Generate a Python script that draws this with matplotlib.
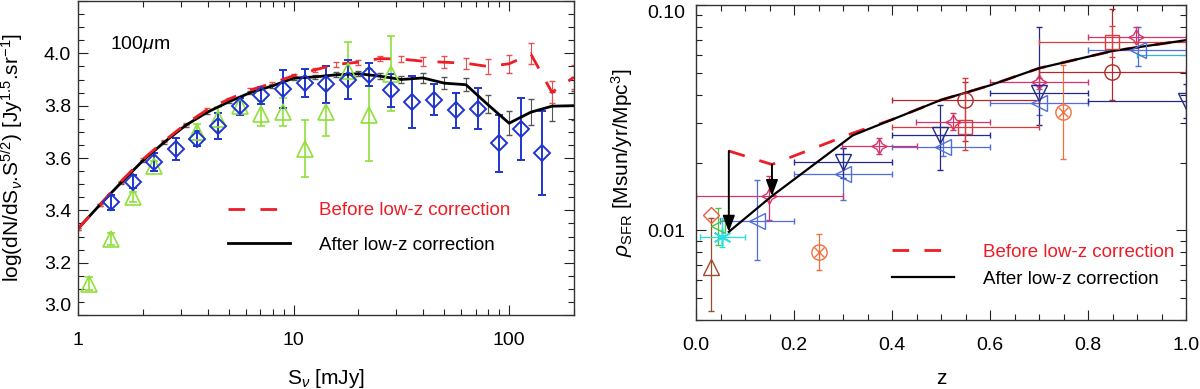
import matplotlib
matplotlib.use('Agg')
import matplotlib.pyplot as plt
from matplotlib.ticker import FixedLocator, FixedFormatter, MultipleLocator, LogLocator, NullFormatter

plt.rcParams['font.family'] = ['Liberation Sans', 'DejaVu Sans']
plt.rcParams['mathtext.fontset'] = 'custom'
plt.rcParams['mathtext.rm'] = 'Liberation Sans'
plt.rcParams['mathtext.it'] = 'Liberation Sans:italic'
plt.rcParams['mathtext.bf'] = 'Liberation Sans:bold'

# ---- left panel: 100um counts ----
S_mod = [1.0, 1.26, 1.58, 2.0, 2.51, 3.16, 3.98, 5.01, 6.31, 7.94, 10.0, 12.6,
         15.8, 20.0, 25.1, 31.6, 39.8, 50.1, 63.1, 79.4, 100.0, 126.0, 158.0, 200.0]
before_cnt = [3.33, 3.42, 3.51, 3.595, 3.665, 3.73, 3.785, 3.825, 3.86, 3.885, 3.915, 3.937,
              3.958, 3.966, 3.98, 3.978, 3.97, 3.966, 3.962, 3.95, 3.96, 3.998, 3.851, 3.909]
before_err = [0.004, 0.004, 0.004, 0.004, 0.005, 0.005, 0.005, 0.005, 0.006, 0.006, 0.007, 0.008,
              0.009, 0.01, 0.01, 0.01, 0.017, 0.022, 0.022, 0.029, 0.034, 0.04, 0.042, 0.045]
after_cnt = [3.33, 3.42, 3.505, 3.59, 3.66, 3.725, 3.775, 3.815, 3.85, 3.875, 3.905, 3.91,
             3.918, 3.922, 3.913, 3.90, 3.906, 3.886, 3.88, 3.805, 3.733, 3.775, 3.798, 3.80]
after_err = [0.004, 0.004, 0.004, 0.004, 0.005, 0.005, 0.005, 0.005, 0.006, 0.006, 0.008, 0.008,
             0.01, 0.01, 0.012, 0.015, 0.019, 0.022, 0.025, 0.034, 0.045, 0.05, 0.055, 0.055]

S_blue = [1.42, 1.79, 2.25, 2.84, 3.55, 4.48, 5.64, 7.07, 8.95, 11.3, 14.2, 17.9, 22.4,
          28.3, 35.5, 44.9, 56.9, 71.9, 90.2, 113.0, 142.0]
cnt_blue = [3.43, 3.51, 3.585, 3.635, 3.674, 3.721, 3.797, 3.839, 3.864, 3.887, 3.881, 3.90,
            3.919, 3.858, 3.813, 3.822, 3.782, 3.788, 3.657, 3.712, 3.62]
err_blue = [0.03, 0.025, 0.035, 0.043, 0.028, 0.05, 0.032, 0.032, 0.074, 0.053, 0.072, 0.073,
            0.044, 0.063, 0.10, 0.059, 0.066, 0.078, 0.109, 0.118, 0.16]

S_green = [1.13, 1.42, 1.79, 2.25, 3.55, 4.48, 5.64, 7.07, 8.95, 11.3, 14.2, 17.9, 22.4, 28.3]
cnt_green = [3.12, 3.29, 3.45, 3.57, 3.70, 3.75, 3.80, 3.77, 3.775, 3.636, 3.775, 3.934, 3.763, 3.922]
err_green = [0.025, 0.022, 0.02, 0.02, 0.03, 0.045, 0.03, 0.048, 0.053, 0.108, 0.09, 0.108, 0.176, 0.143]

# ---- right panel: SFR density ----
z_mod = [0.067, 0.155, 0.32, 0.4, 0.5, 0.55, 0.6, 0.7, 0.85, 1.0]
before_sfr = [0.0225, 0.0196, 0.027, 0.031, 0.0379, 0.0408, 0.044, 0.0524, 0.0625, 0.0698]
after_sfr = [0.00985, 0.0142, 0.0264, 0.031, 0.0379, 0.0408, 0.044, 0.0524, 0.0625, 0.0698]

z_sdia = [0.03]; r_sdia = [0.0117]
z_brown = [0.03]; r_brown = [0.0069]; lo_brown = [0.0025]; hi_brown = [0.0044]
z_grn = [0.045]; r_grn = [0.0105]; lo_grn = [0.0019]; hi_grn = [0.002]
z_cyan = [0.054]; r_cyan = [0.0093]; xlo_cyan = [0.046]; xhi_cyan = [0.045]
lo_cyan = [0.0009]; hi_cyan = [0.0021]
z_blue = [0.125, 0.30, 0.505, 0.70, 0.903]
r_blue = [0.011, 0.0177, 0.0234, 0.0366, 0.063]
xlo_blue = [0.076, 0.10, 0.105, 0.10, 0.103]
xhi_blue = [0.074, 0.10, 0.095, 0.10, 0.097]
lo_blue = [0.0036, 0.0041, 0.002, 0.004, 0.0094]
hi_blue = [0.0057, 0.0056, 0.003, 0.006, 0.017]
z_star = [0.149, 0.374, 0.525, 0.70, 0.898]
r_star = [0.0142, 0.0237, 0.0303, 0.0456, 0.0718]
xlo_star = [0.149, 0.077, 0.076, 0.10, 0.098]
xhi_star = [0.15, 0.076, 0.075, 0.10, 0.102]
lo_star = [0.0031, 0.0019, 0.0025, 0.002, 0.003]
hi_star = [0.0032, 0.0019, 0.0027, 0.002, 0.008]
z_ox = [0.25, 0.748]; r_ox = [0.0080, 0.0336]
lo_ox = [0.0013, 0.0128]; hi_ox = [0.0016, 0.0204]
z_navy = [0.299, 0.498, 0.70, 1.0]
r_navy = [0.0201, 0.0264, 0.0405, 0.0375]
xlo_navy = [0.1, 0.098, 0.10, 0.2]
xhi_navy = [0.1, 0.102, 0.10, 0.2]
lo_navy = [0.003, 0.0079, 0.0112, 0.006]
hi_navy = [0.0032, 0.0096, 0.0397, 0.007]
z_circ = [0.549, 0.848]; r_circ = [0.0379, 0.0506]
xlo_circ = [0.149, 0.148]; xhi_circ = [0.151, 0.152]
lo_circ = [0.013, 0.0127]; hi_circ = [0.0077, 0.045]
z_sq = [0.549, 0.848]; r_sq = [0.0288, 0.0687]
xlo_sq = [0.149, 0.148]; xhi_sq = [0.151, 0.152]
lo_sq = [0.0061, 0.01]; hi_sq = [0.0184, 0.012]
z_teal = [1.05]; r_teal = [0.060]; xerr_teal = [0.15]

RED = '#ee1c25'
fig = plt.figure(figsize=(12, 3.89), dpi=100)
ax1 = fig.add_axes([78/1200, 74/389, 496/1200, 314/389])
ax2 = fig.add_axes([696/1200, 69/389, 490/1200, 315/389])

# left
ax1.errorbar(S_green, cnt_green, yerr=err_green, fmt='^', ms=11, mfc='none', mec='#8fe03a',
             mew=1.2, ecolor='#8fe03a', elinewidth=1.2, capsize=3)
ax1.errorbar(S_blue, cnt_blue, yerr=err_blue, fmt='D', ms=8, mfc='none', mec='#1f35d0',
             mew=1.4, ecolor='#1f35d0', elinewidth=1.4, capsize=3)
ax1.errorbar(S_mod, after_cnt, yerr=after_err, fmt='none', ecolor='#555555', elinewidth=0.8, capsize=2.5)
ax1.errorbar(S_mod, before_cnt, yerr=before_err, fmt='none', ecolor='#e85050', elinewidth=0.8, capsize=2.5)
l_after, = ax1.plot(S_mod, after_cnt, color='k', lw=2, label='After low-z correction')
l_before, = ax1.plot(S_mod, before_cnt, color=RED, lw=2, dashes=(6, 5.5), label='Before low-z correction')

ax1.set_xscale('log')
ax1.set_xlim(1, 200)
ax1.set_ylim(3.0, 4.2)
ax1.xaxis.set_major_locator(FixedLocator([1, 10, 100]))
ax1.xaxis.set_major_formatter(FixedFormatter(['1', '10', '100']))
ax1.xaxis.set_minor_locator(LogLocator(base=10, subs=[2, 3, 4, 5, 6, 7, 8, 9]))
ax1.xaxis.set_minor_formatter(NullFormatter())
ax1.yaxis.set_major_locator(FixedLocator([3.0, 3.2, 3.4, 3.6, 3.8, 4.0, 4.2]))
ax1.yaxis.set_major_formatter(FixedFormatter(['3.0', '3.2', '3.4', '3.6', '3.8', '4.0', '']))
ax1.yaxis.set_minor_locator(MultipleLocator(0.05))
ax1.text(0.0645, 0.86, r'100$\mu$m', transform=ax1.transAxes, fontsize=14, va='center')
ax1.set_xlabel(r'S$_\nu$ [mJy]', fontsize=15)
ax1.set_ylabel(r'log(dN/dS$_\nu$.S$^{5/2}$) [Jy$^{1.5}$.sr$^{-1}$]', fontsize=15)
ax1.xaxis.set_label_coords(0.5, -0.165)
ax1.yaxis.set_label_coords(-0.105, 0.5)
ax1.legend(handles=[l_before, l_after], loc='upper left', bbox_to_anchor=(0.302, 0.36),
           frameon=False, fontsize=13.5, handlelength=3.3, handletextpad=1.55,
           labelspacing=0.95, borderpad=0, borderaxespad=0, labelcolor=[RED, 'k'])

# right
ekw = dict(elinewidth=0.9, capsize=2, mew=1.0, mfc='none')
ax2.errorbar(z_brown, r_brown, yerr=[lo_brown, hi_brown], fmt='^', ms=11, mec='#9c4a2a', ecolor='#9c4a2a', **ekw)
ax2.errorbar(z_sdia, r_sdia, fmt='D', ms=8, mec='#f05a3c', **ekw)
ax2.errorbar(z_grn, r_grn, yerr=[lo_grn, hi_grn], fmt='<', ms=10, mec='#4cc44c', ecolor='#4cc44c', **ekw)
ax2.errorbar(z_cyan, r_cyan, xerr=[xlo_cyan, xhi_cyan], yerr=[lo_cyan, hi_cyan], fmt='none',
             ecolor='#28e0e0', elinewidth=0.9, capsize=2)
ax2.plot(z_cyan, r_cyan, ls='none', marker=(6, 2, 0), ms=13, mec='#28e0e0', mew=1.2)
ax2.errorbar(z_blue, r_blue, xerr=[xlo_blue, xhi_blue], yerr=[lo_blue, hi_blue], fmt='<', ms=11,
             mec='#4f6fdc', ecolor='#4f6fdc', **ekw)
ax2.errorbar(z_navy, r_navy, xerr=[xlo_navy, xhi_navy], yerr=[lo_navy, hi_navy], fmt='v', ms=11,
             mec='#232a8c', ecolor='#232a8c', **ekw)
ax2.errorbar(z_star, r_star, xerr=[xlo_star, xhi_star], yerr=[lo_star, hi_star], fmt='none',
             ecolor='#d8336a', elinewidth=0.9, capsize=2)
ax2.plot(z_star, r_star, ls='none', marker=(4, 1, 0), ms=11, mfc='none', mec='#d8336a', mew=1.0)
ax2.errorbar(z_ox, r_ox, yerr=[lo_ox, hi_ox], fmt='o', ms=11, mec='#f07040', ecolor='#f07040', **ekw)
ax2.plot(z_ox, r_ox, ls='none', marker='x', ms=7, mec='#f07040', mew=1.0)
ax2.errorbar(z_circ, r_circ, xerr=[xlo_circ, xhi_circ], yerr=[lo_circ, hi_circ], fmt='o', ms=11,
             mec='#b52828', ecolor='#b52828', **ekw)
ax2.errorbar(z_sq, r_sq, xerr=[xlo_sq, xhi_sq], yerr=[lo_sq, hi_sq], fmt='s', ms=10,
             mec='#d83c3c', ecolor='#d83c3c', **ekw)
ax2.errorbar(z_teal, r_teal, xerr=xerr_teal, fmt='none', ecolor='#30b8c8', elinewidth=0.9, capsize=2)

r_before, = ax2.plot(z_mod, before_sfr, color=RED, lw=2, dashes=(6, 5.5))
r_after, = ax2.plot(z_mod, after_sfr, color='k', lw=1.6)
for i in range(2):
    ax2.annotate('', xy=(z_mod[i], after_sfr[i]), xytext=(z_mod[i], before_sfr[i]),
                 arrowprops=dict(arrowstyle='-|>,head_length=0.8,head_width=0.3', color='k',
                                 lw=1.4, mutation_scale=12, shrinkA=0, shrinkB=0))

ax2.set_yscale('log')
ax2.set_xlim(0, 1)
ax2.set_ylim(0.004, 0.1)
ax2.xaxis.set_major_locator(FixedLocator([0.0, 0.2, 0.4, 0.6, 0.8, 1.0]))
ax2.xaxis.set_major_formatter(FixedFormatter(['0.0', '0.2', '0.4', '0.6', '0.8', '1.0']))
ax2.xaxis.set_minor_locator(MultipleLocator(0.05))
ax2.yaxis.set_major_locator(FixedLocator([0.01, 0.1]))
ax2.yaxis.set_major_formatter(FixedFormatter(['0.01', '0.10']))
ax2.yaxis.set_minor_locator(LogLocator(base=10, subs=[2, 3, 4, 5, 6, 7, 8, 9]))
ax2.yaxis.set_minor_formatter(NullFormatter())
ax2.set_xlabel('z', fontsize=15)
ax2.set_ylabel(r'$\rho_{\rm SFR}$ [Msun/yr/Mpc$^3$]', fontsize=15)
ax2.xaxis.set_label_coords(0.5, -0.155)
ax2.yaxis.set_label_coords(-0.125, 0.5)
ax2.legend(handles=[r_before, r_after], labels=['Before low-z correction', 'After low-z correction'],
           loc='upper left', bbox_to_anchor=(0.3994, 0.243), frameon=False, fontsize=13.5,
           handlelength=3.3, handletextpad=1.55, labelspacing=0.55, borderpad=0, borderaxespad=0,
           labelcolor=[RED, 'k'])

for ax in (ax1, ax2):
    ax.tick_params(which='both', direction='in', top=True, right=True, width=0.8, colors='#222222',
                   labelsize=14, labelcolor='k')
    ax.tick_params(which='major', length=7)
    ax.tick_params(which='minor', length=4)
    ax.tick_params(axis='x', which='major', pad=12)
    for sp in ax.spines.values():
        sp.set_linewidth(1.0)
        sp.set_color('#333333')
ax1.tick_params(axis='y', which='major', pad=5)
ax2.tick_params(axis='y', which='major', pad=8)

ax1.yaxis.get_major_ticks()[0].label1.set_va('bottom')
ax2.yaxis.get_major_ticks()[1].label1.set_va('top')

fig.savefig('out.png', dpi=100)
